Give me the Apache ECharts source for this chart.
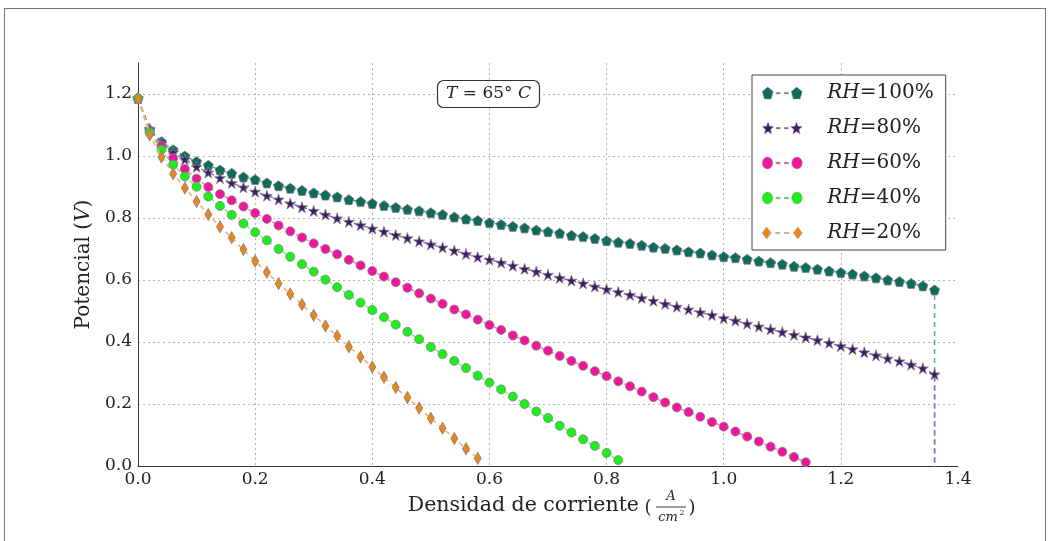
<!DOCTYPE html>
<html>
<head>
<meta charset="utf-8">
<script src="https://cdn.jsdelivr.net/npm/echarts@6/dist/echarts.min.js"></script>
<style>
html,body{margin:0;padding:0;background:#fff;}
#frame{position:absolute;left:4px;top:8px;width:1042px;height:540px;border:1px solid #777;border-bottom:none;box-sizing:border-box;}
#chart{position:absolute;left:0;top:0;width:1051px;height:541px;}
</style>
</head>
<body>
<div id="frame"></div>
<div id="chart"></div>
<script>
// ---- data ----
const currentDensity = [0,0.02,0.04,0.06,0.08,0.10,0.12,0.14,0.16,0.18,
  0.20,0.22,0.24,0.26,0.28,0.30,0.32,0.34,0.36,0.38,
  0.40,0.42,0.44,0.46,0.48,0.50,0.52,0.54,0.56,0.58,
  0.60,0.62,0.64,0.66,0.68,0.70,0.72,0.74,0.76,0.78,
  0.80,0.82,0.84,0.86,0.88,0.90,0.92,0.94,0.96,0.98,
  1.00,1.02,1.04,1.06,1.08,1.10,1.12,1.14,1.16,1.18,
  1.20,1.22,1.24,1.26,1.28,1.30,1.32,1.34,1.36];

const seriesNames = ['RH=100%','RH=80%','RH=60%','RH=40%','RH=20%'];

const rh100 = [1.186,1.085,1.046,1.020,1.000,0.982,0.970,0.955,0.944,0.932,
  0.924,0.913,0.904,0.896,0.889,0.881,0.874,0.868,0.859,0.853,
  0.847,0.840,0.834,0.828,0.823,0.817,0.811,0.803,0.797,0.792,
  0.785,0.779,0.773,0.768,0.761,0.756,0.751,0.744,0.740,0.734,
  0.727,0.722,0.718,0.712,0.706,0.702,0.697,0.691,0.687,0.681,
  0.675,0.672,0.667,0.661,0.656,0.651,0.644,0.640,0.635,0.629,
  0.624,0.619,0.613,0.607,0.600,0.595,0.589,0.581,0.568];

const rh80 = [1.186,1.088,1.040,1.012,0.989,0.965,0.947,0.929,0.913,0.899,
  0.885,0.872,0.860,0.847,0.835,0.823,0.811,0.799,0.788,0.777,
  0.766,0.756,0.745,0.735,0.725,0.715,0.705,0.695,0.684,0.674,
  0.666,0.656,0.646,0.636,0.627,0.617,0.607,0.598,0.589,0.579,
  0.570,0.561,0.552,0.542,0.533,0.523,0.514,0.505,0.496,0.487,
  0.477,0.469,0.459,0.450,0.441,0.432,0.423,0.415,0.406,0.397,
  0.387,0.377,0.367,0.357,0.347,0.338,0.327,0.315,0.296];

const rh60 = [1.186,1.080,1.032,0.993,0.958,0.927,0.900,0.877,0.857,0.837,
  0.816,0.797,0.776,0.757,0.737,0.718,0.700,0.683,0.665,0.647,
  0.629,0.611,0.593,0.575,0.557,0.540,0.523,0.505,0.489,0.472,
  0.455,0.439,0.421,0.405,0.388,0.372,0.355,0.339,0.323,0.306,
  0.290,0.273,0.257,0.240,0.222,0.205,0.189,0.174,0.159,0.142,
  0.127,0.111,0.095,0.079,0.062,0.046,0.029,0.012];

const rh40 = [1.186,1.075,1.020,0.972,0.934,0.901,0.869,0.839,0.810,0.782,
  0.754,0.728,0.700,0.675,0.651,0.627,0.601,0.577,0.552,0.527,
  0.503,0.480,0.456,0.433,0.409,0.384,0.361,0.339,0.316,0.291,
  0.269,0.247,0.224,0.200,0.176,0.155,0.130,0.108,0.086,0.065,
  0.042,0.019];

const rh20 = [1.186,1.068,0.997,0.943,0.897,0.853,0.811,0.772,0.736,0.698,
  0.661,0.625,0.589,0.555,0.521,0.486,0.452,0.419,0.385,0.352,
  0.319,0.286,0.253,0.221,0.187,0.154,0.122,0.089,0.056,0.025];

// RH=100% and RH=80% end with a vertical drop at the last current density
const dropX = 1.36;
const dropV = -0.05;

const xTicks = [0,0.2,0.4,0.6,0.8,1.0,1.2,1.4];
const yTicks = [0,0.2,0.4,0.6,0.8,1.0,1.2];

// ---- styles ----
const colors = ['#0f6b5c','#3e1a6c','#f0159c','#1cf01c','#ee8617'];
const lineColors = ['#5ea99c','#8f72b8','#f582c4','#7ef57e','#f3b06a'];

const PENT = 'path://M0,-1L0.951,-0.309L0.588,0.809L-0.588,0.809L-0.951,-0.309Z';
const STAR = 'path://M0,-1L0.2245,-0.309L0.951,-0.309L0.363,0.118L0.588,0.809L0,0.382L-0.588,0.809L-0.363,0.118L-0.951,-0.309L-0.2245,-0.309Z';
const symbols = [PENT, STAR, 'circle', 'circle', 'diamond'];
const symbolSizes = [10, 11, 9, 9, [7,12]];

function pent(cx, cy, r) {
  let s = '';
  for (let k = 0; k < 5; k++) {
    const a = (-90 + 72 * k) * Math.PI / 180;
    s += (k ? 'L' : 'M') + (cx + r * Math.cos(a)).toFixed(2) + ',' + (cy + r * Math.sin(a)).toFixed(2);
  }
  return s + 'Z';
}
function star(cx, cy, R, r) {
  let s = '';
  for (let k = 0; k < 10; k++) {
    const a = (-90 + 36 * k) * Math.PI / 180;
    const rr = k % 2 ? r : R;
    s += (k ? 'L' : 'M') + (cx + rr * Math.cos(a)).toFixed(2) + ',' + (cy + rr * Math.sin(a)).toFixed(2);
  }
  return s + 'Z';
}
function circ(cx, cy, r) {
  return 'M' + (cx - r) + ',' + cy + 'A' + r + ',' + r + ',0,1,1,' + (cx + r) + ',' + cy +
    'A' + r + ',' + r + ',0,1,1,' + (cx - r) + ',' + cy + 'Z';
}
function diam(cx, cy, w, h) {
  return 'M' + cx + ',' + (cy - h / 2) + 'L' + (cx + w / 2) + ',' + cy + 'L' + cx + ',' + (cy + h / 2) + 'L' + (cx - w / 2) + ',' + cy + 'Z';
}
const dashes = 'M14,5.4L18,5.4L18,6.6L14,6.6Z M22,5.4L26,5.4L26,6.6L22,6.6Z';
const legendIcons = [
  'path://' + pent(6, 6.4, 5.6) + pent(34, 6.4, 5.6) + dashes,
  'path://' + star(6, 6.4, 6, 2.6) + star(34, 6.4, 6, 2.6) + dashes,
  'path://' + circ(6, 6, 5) + circ(34, 6, 5) + dashes,
  'path://' + circ(6, 6, 5) + circ(34, 6, 5) + dashes,
  'path://' + diam(6, 6, 8, 12) + diam(34, 6, 8, 12) + dashes
];

const allValues = [rh100, rh80, rh60, rh40, rh20];

function buildData(vals, withDrop) {
  const d = vals.map((v, i) => [currentDensity[i], v]);
  if (withDrop) d.push({ value: [dropX, dropV], symbol: 'none' });
  return d;
}

const series = allValues.map((vals, i) => ({
  name: seriesNames[i],
  type: 'line',
  data: buildData(vals, i < 2),
  symbol: symbols[i],
  symbolSize: symbolSizes[i],
  showAllSymbol: true,
  clip: true,
  itemStyle: { color: colors[i], borderColor: '#808080', borderWidth: 0.8, opacity: 1 },
  lineStyle: { color: lineColors[i], width: 1.5, type: [5, 4] },
  emphasis: { disabled: true },
  animation: false,
  z: 2 + i
}));

const serif = 'DejaVu Serif';
const chart = echarts.init(document.getElementById('chart'), null, { renderer: 'canvas' });
chart.setOption({
  backgroundColor: 'transparent',
  animation: false,
  grid: { left: 138, right: 93, top: 63, bottom: 75, containLabel: false },
  title: {
    text: '{i|T}{n| = 65°}{i| C}',
    left: 437, top: 78,
    padding: [5, 9, 5, 9],
    borderColor: '#333', borderWidth: 1.2, borderRadius: 6,
    backgroundColor: '#fff',
    textStyle: {
      fontWeight: 'normal',
      rich: {
        i: { fontFamily: serif, fontStyle: 'italic', fontWeight: 'normal', fontSize: 17, color: '#222', lineHeight: 22 },
        n: { fontFamily: serif, fontWeight: 'normal', fontSize: 17, color: '#222', lineHeight: 22 }
      }
    }
  },
  legend: {
    orient: 'vertical',
    left: 752, top: 75,
    padding: [8, 12, 7, 10],
    itemGap: 15,
    itemWidth: 40, itemHeight: 12,
    symbolKeepAspect: false,
    backgroundColor: '#fff',
    borderColor: '#444', borderWidth: 1,
    data: seriesNames.map((n, i) => ({ name: n, icon: legendIcons[i] })),
    itemStyle: { borderWidth: 0.5, borderColor: '#999' },
    formatter: name => '{i|RH}{n|=' + name.split('=')[1] + '}',
    textStyle: {
      padding: [0, 0, 0, 20],
      rich: {
        i: { fontFamily: serif, fontStyle: 'italic', fontSize: 20, color: '#222', lineHeight: 22 },
        n: { fontFamily: serif, fontSize: 20, color: '#222', lineHeight: 22 }
      }
    },
    selectedMode: false
  },
  xAxis: {
    type: 'value', min: 0, max: 1.4, interval: 0.2,
    axisLine: { show: true, lineStyle: { color: '#333', width: 1 } },
    axisTick: { show: false },
    axisLabel: {
      fontFamily: serif, fontSize: 17, color: '#222', margin: 5,
      formatter: v => (xTicks.some(t => Math.abs(t - v) < 1e-6) ? v.toFixed(1) : '')
    },
    splitLine: { show: true, showMinLine: false, showMaxLine: false, lineStyle: { color: '#b5b5b5', type: [2, 3], width: 1 } }
  },
  yAxis: {
    type: 'value', min: 0, max: 1.3, interval: 0.2,
    name: '{a|Potencial (}{b|V}{a|)}',
    nameLocation: 'middle', nameGap: 42,
    nameTextStyle: {
      rich: {
        a: { fontFamily: serif, fontSize: 20, color: '#222' },
        b: { fontFamily: serif, fontStyle: 'italic', fontSize: 20, color: '#222' }
      }
    },
    axisLine: { show: true, lineStyle: { color: '#333', width: 1 } },
    axisTick: { show: false },
    axisLabel: {
      fontFamily: serif, fontSize: 17, color: '#222', margin: 6, showMaxLabel: false,
      formatter: v => (yTicks.some(t => Math.abs(t - v) < 1e-6) ? v.toFixed(1) : '')
    },
    splitLine: { show: true, showMinLine: false, showMaxLine: false, lineStyle: { color: '#b5b5b5', type: [2, 3], width: 1 } }
  },
  graphic: [
    { type: 'text', x: 639, y: 506, style: { text: 'Densidad de corriente', font: '20.5px "DejaVu Serif"', fill: '#222', align: 'right', verticalAlign: 'middle' } },
    { type: 'text', x: 648, y: 508, style: { text: '(', font: '18px "DejaVu Serif"', fill: '#222', align: 'center', verticalAlign: 'middle' } },
    { type: 'text', x: 671, y: 497, style: { text: 'A', font: 'italic 13px "DejaVu Serif"', fill: '#222', align: 'center', verticalAlign: 'middle' } },
    { type: 'line', shape: { x1: 656, y1: 507, x2: 686, y2: 507 }, style: { stroke: '#222', lineWidth: 0.9 } },
    { type: 'text', x: 668, y: 518, style: { text: 'cm', font: 'italic 13px "DejaVu Serif"', fill: '#222', align: 'center', verticalAlign: 'middle' } },
    { type: 'text', x: 682, y: 513, style: { text: '2', font: '8px "DejaVu Serif"', fill: '#222', align: 'center', verticalAlign: 'middle' } },
    { type: 'text', x: 692, y: 508, style: { text: ')', font: '18px "DejaVu Serif"', fill: '#222', align: 'center', verticalAlign: 'middle' } }
  ],
  series: series
});
</script>
</body>
</html>
